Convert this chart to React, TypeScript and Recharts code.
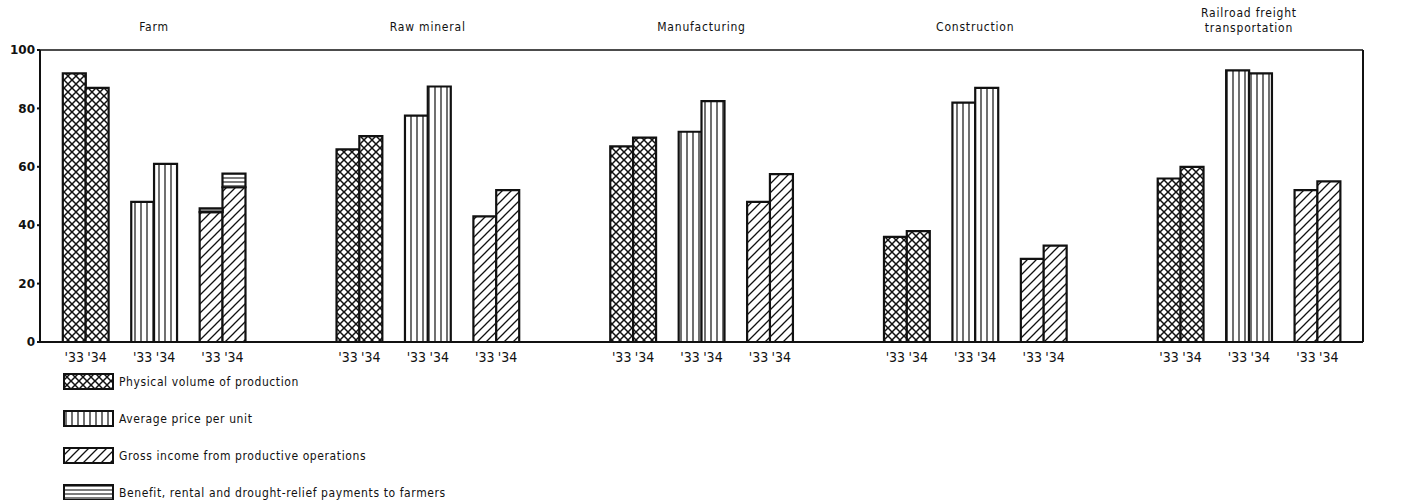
import { BarChart, Bar, XAxis, YAxis, Legend } from 'recharts';

const groups = ['Farm', 'Raw mineral', 'Manufacturing', 'Construction', 'Railroad freight\ntransportation'];
const years = ["'33", "'34"];

// index numbers, ['33, '34] for each group
const physicalVolume = [[92, 87], [66, 70.5], [67, 70], [36, 38], [56, 60]];
const pricePerUnit = [[48, 61], [77.5, 87.5], [72, 82.5], [82, 87], [93, 92]];
const grossIncome = [[44.5, 53], [43, 52], [48, 57.5], [28.5, 33], [52, 55]];
const benefitPayments = [[1.3, 4.7], [0, 0], [0, 0], [0, 0], [0, 0]];

const yTicks = [0, 20, 40, 60, 80, 100];

const legendItems = [
  { label: 'Physical volume of production', fill: 'url(#pat-cross)' },
  { label: 'Average price per unit', fill: 'url(#pat-vert)' },
  { label: 'Gross income from productive operations', fill: 'url(#pat-diag)' },
  { label: 'Benefit, rental and drought-relief payments to farmers', fill: 'url(#pat-horiz)' },
];

type Row = {
  key: string;
  label: string;
  title: string;
  physical: number;
  price: number;
  gross: number;
  benefit: number;
};

// one slot per bar, empty slots between pairs and groups
const rows: Row[] = [];
let sp = 0;
const spacer = () =>
  rows.push({ key: `s${sp++}`, label: '', title: '', physical: 0, price: 0, gross: 0, benefit: 0 });

spacer();
groups.forEach((g, gi) => {
  const sets: Record<string, number[]>[] = [
    { physical: physicalVolume[gi] },
    { price: pricePerUnit[gi] },
    { gross: grossIncome[gi], benefit: benefitPayments[gi] },
  ];
  sets.forEach((set, si) => {
    years.forEach((yr, yi) => {
      const row: Row = {
        key: `${gi}-${si}-${yi}`,
        label: yr,
        title: si === 1 && yi === 0 ? g : '',
        physical: 0,
        price: 0,
        gross: 0,
        benefit: 0,
      };
      Object.entries(set).forEach(([k, v]) => {
        (row as any)[k] = v[yi];
      });
      rows.push(row);
    });
    if (si < 2) spacer();
  });
  if (gi < groups.length - 1) for (let i = 0; i < 4; i++) spacer();
});
spacer();

const labelByKey: Record<string, string> = {};
const titleByKey: Record<string, string> = {};
rows.forEach((r) => {
  labelByKey[r.key] = r.label;
  titleByKey[r.key] = r.title;
});

const W = 1406;
const H = 500;
const LEFT_W = 40;
const RIGHT_W = 43;
const slotW = (W - LEFT_W - RIGHT_W) / rows.length;

const FONT = '"DejaVu Sans Condensed", "DejaVu Sans", sans-serif';

const TitleTick = ({ x, y, payload }: any) => {
  const t = titleByKey[payload.value];
  if (!t) return <g />;
  const lines = t.split('\n');
  const cx = x + slotW / 2;
  return (
    <text
      x={cx}
      textAnchor="middle"
      fontFamily={FONT}
      fontSize={12}
      letterSpacing={0.8}
      fill="#111"
    >
      {lines.map((l: string, i: number) => (
        <tspan key={i} x={cx} y={lines.length > 1 ? y - 33 + i * 15 : y - 19}>
          {l}
        </tspan>
      ))}
    </text>
  );
};

const RightTick = ({ x, y, payload }: any) => (
  <g>
    {payload.value !== 0 && payload.value !== 100 && (
      <line x1={x - 9} x2={x - 2} y1={y} y2={y} stroke="#111" strokeWidth={2} />
    )}
    <text
      x={x + 31}
      y={y}
      textAnchor="end"
      dominantBaseline="central"
      fontFamily="DejaVu Sans"
      fontWeight="bold"
      fontSize={12}
      fill="#111"
    >
      {payload.value}
    </text>
  </g>
);

const LegendBox = () => (
  <div style={{ display: 'flex', flexDirection: 'column', gap: 20 }}>
    {legendItems.map((it) => (
      <div key={it.label} style={{ display: 'flex', alignItems: 'center', height: 17 }}>
        <svg width={52} height={18} style={{ display: 'block' }}>
          <rect x={1} y={1} width={49} height={15} fill={it.fill} stroke="#111" strokeWidth={2} />
        </svg>
        <span
          style={{
            marginLeft: 4,
            fontFamily: FONT,
            fontSize: 12,
            letterSpacing: 0.6,
            color: '#111',
            whiteSpace: 'nowrap',
          }}
        >
          {it.label}
        </span>
      </div>
    ))}
  </div>
);

export default function App() {
  return (
    <div style={{ position: 'absolute', left: 0, top: 0, width: W, height: H, background: '#fff' }}>
      <BarChart
        width={W}
        height={H}
        data={rows}
        margin={{ top: 0, right: 0, bottom: 138, left: 0 }}
        barCategoryGap={0}
        barGap={0}
      >
        <defs>
          <pattern id="pat-cross" patternUnits="userSpaceOnUse" width={8} height={8}>
            <rect width={8} height={8} fill="#fff" />
            <path d="M0,0 L8,8 M8,0 L0,8" stroke="#111" strokeWidth={1.5} />
          </pattern>
          <pattern id="pat-vert" patternUnits="userSpaceOnUse" width={6} height={6}>
            <rect width={6} height={6} fill="#fff" />
            <path d="M3,0 L3,6" stroke="#111" strokeWidth={1.2} />
          </pattern>
          <pattern id="pat-diag" patternUnits="userSpaceOnUse" width={9} height={9}>
            <rect width={9} height={9} fill="#fff" />
            <path d="M0,9 L9,0 M-1,1 L1,-1 M8,10 L10,8" stroke="#111" strokeWidth={1.3} />
          </pattern>
          <pattern id="pat-horiz" patternUnits="userSpaceOnUse" width={4} height={4}>
            <rect width={4} height={4} fill="#fff" />
            <path d="M0,2 L4,2" stroke="#111" strokeWidth={1.1} />
          </pattern>
        </defs>
        <XAxis
          dataKey="key"
          xAxisId="bottom"
          height={20}
          interval={0}
          tickLine={false}
          tickMargin={4}
          axisLine={{ stroke: '#111', strokeWidth: 2 }}
          tickFormatter={(k) => labelByKey[k]}
          tick={{ fill: '#111', fontSize: 14, fontFamily: FONT }}
        />
        <XAxis
          dataKey="key"
          xAxisId="top"
          orientation="top"
          height={50}
          interval={0}
          tickLine={false}
          tickSize={0}
          tickMargin={0}
          axisLine={{ stroke: '#111', strokeWidth: 1.5 }}
          tick={<TitleTick />}
        />
        <YAxis
          yAxisId="left"
          width={LEFT_W}
          domain={[0, 100]}
          ticks={yTicks}
          interval={0}
          tickSize={3}
          tickMargin={2}
          axisLine={{ stroke: '#111', strokeWidth: 2 }}
          tickLine={{ stroke: '#111', strokeWidth: 2 }}
          tick={{ fill: '#111', fontSize: 12, fontWeight: 'bold', fontFamily: 'DejaVu Sans' }}
        />
        <YAxis
          yAxisId="right"
          orientation="right"
          width={RIGHT_W}
          domain={[0, 100]}
          ticks={yTicks}
          interval={0}
          tickSize={0}
          tickMargin={0}
          tickLine={false}
          axisLine={{ stroke: '#111', strokeWidth: 2 }}
          tick={<RightTick />}
        />
        <Legend
          layout="vertical"
          align="center"
          verticalAlign="middle"
          wrapperStyle={{ position: 'absolute', left: 63, top: 373, width: 500 }}
          content={() => <LegendBox />}
        />
        <Bar dataKey="physical" stackId="s" xAxisId="bottom" yAxisId="left" fill="url(#pat-cross)" stroke="#111" strokeWidth={2.2} isAnimationActive={false} />
        <Bar dataKey="price" stackId="s" xAxisId="bottom" yAxisId="left" fill="url(#pat-vert)" stroke="#111" strokeWidth={2.2} isAnimationActive={false} />
        <Bar dataKey="gross" stackId="s" xAxisId="bottom" yAxisId="left" fill="url(#pat-diag)" stroke="#111" strokeWidth={2.2} isAnimationActive={false} />
        <Bar dataKey="benefit" stackId="s" xAxisId="bottom" yAxisId="left" fill="url(#pat-horiz)" stroke="#111" strokeWidth={2.2} isAnimationActive={false} />
      </BarChart>
    </div>
  );
}
